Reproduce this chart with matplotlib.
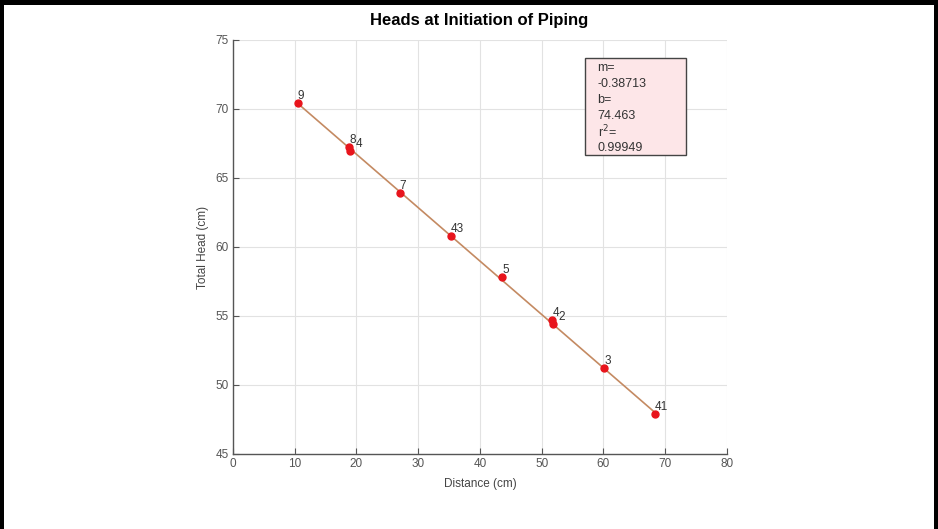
import matplotlib
matplotlib.use('Agg')
import matplotlib.pyplot as plt
from matplotlib.patches import Rectangle

plt.rcParams['font.family'] = ['Liberation Sans', 'DejaVu Sans']

# values
distance = [10.5, 18.8, 18.9, 27.0, 35.3, 43.6, 51.7, 51.8, 60.1, 68.3]
head = [70.40, 67.25, 66.95, 63.9, 60.8, 57.8, 54.7, 54.4, 51.2, 47.9]
labels = ['9', '8', '4', '7', '43', '5', '4', '2', '3', '41']
label_dx = [0, 0, 4, 0, 0, 0, 0, 4, 0, 0]

slope = -0.38713
intercept = 74.463
r2 = 0.99949
fit_x = [10.5, 68.4]

x_ticks = list(range(0, 81, 10))
y_ticks = list(range(45, 76, 5))

fig = plt.figure(figsize=(9.38, 5.29), dpi=100)
ax = fig.add_axes([0.2484, 0.1418, 0.5266, 0.7826])

fit_y = [slope * x + intercept for x in fit_x]
ax.plot(fit_x, fit_y, color='#c48a62', lw=1.2, zorder=2)
ax.plot(distance, head, 'o', color='#e8141c', ms=5, mec='#e8141c', zorder=3)
for x, y, s, dx in zip(distance, head, labels, label_dx):
    ax.annotate(s, (x, y), xytext=(dx, 1), textcoords='offset points',
                fontsize=8.5, color='#333333', ha='left', va='bottom', zorder=4)

ax.set_xlim(0, 80)
ax.set_ylim(45, 75)
ax.set_xticks(x_ticks)
ax.set_yticks(y_ticks)
ax.grid(True, color='#e2e2e2', lw=0.8)
ax.set_axisbelow(True)
for side in ['top', 'right']:
    ax.spines[side].set_visible(False)
for side in ['left', 'bottom']:
    ax.spines[side].set_color('#555555')
    ax.spines[side].set_linewidth(1.0)
ax.tick_params(direction='in', length=4, color='#555555', labelsize=8.5,
               labelcolor='#555555', pad=3)
ax.set_xlabel('Distance (cm)', fontsize=8.5, color='#444444', labelpad=6)
ax.set_ylabel('Total Head (cm)', fontsize=8.5, color='#444444', labelpad=5)

fig.text(0.511, 0.962, 'Heads at Initiation of Piping', ha='center', va='center',
         fontsize=12, fontweight='bold',
         family=['Liberation Sans Narrow', 'Liberation Sans', 'DejaVu Sans'])

# fit results box
ax.add_patch(Rectangle((0.7126, 0.722), 0.2045, 0.2345, transform=ax.transAxes,
                       facecolor='#fde6e8', edgecolor='#444444', lw=1.0, zorder=5))
box_lines = ['m=', '%.5f' % slope, 'b=', '%.3f' % intercept, 'r$^2$=', '%.5f' % r2]
for i, s in enumerate(box_lines):
    ax.text(0.738, 0.932 - i * 0.0385, s, transform=ax.transAxes, fontsize=9,
            color='#333333', ha='left', va='center', zorder=6)

# black frame of the picture
fig.add_artist(Rectangle((0, 1 - 5 / 529), 1, 5 / 529, transform=fig.transFigure,
                         color='black', lw=0))
fig.add_artist(Rectangle((0, 0), 4 / 938, 1, transform=fig.transFigure,
                         color='black', lw=0))
fig.add_artist(Rectangle((1 - 4 / 938, 0), 4 / 938, 1, transform=fig.transFigure,
                         color='black', lw=0))

fig.savefig('out.png', dpi=100)
